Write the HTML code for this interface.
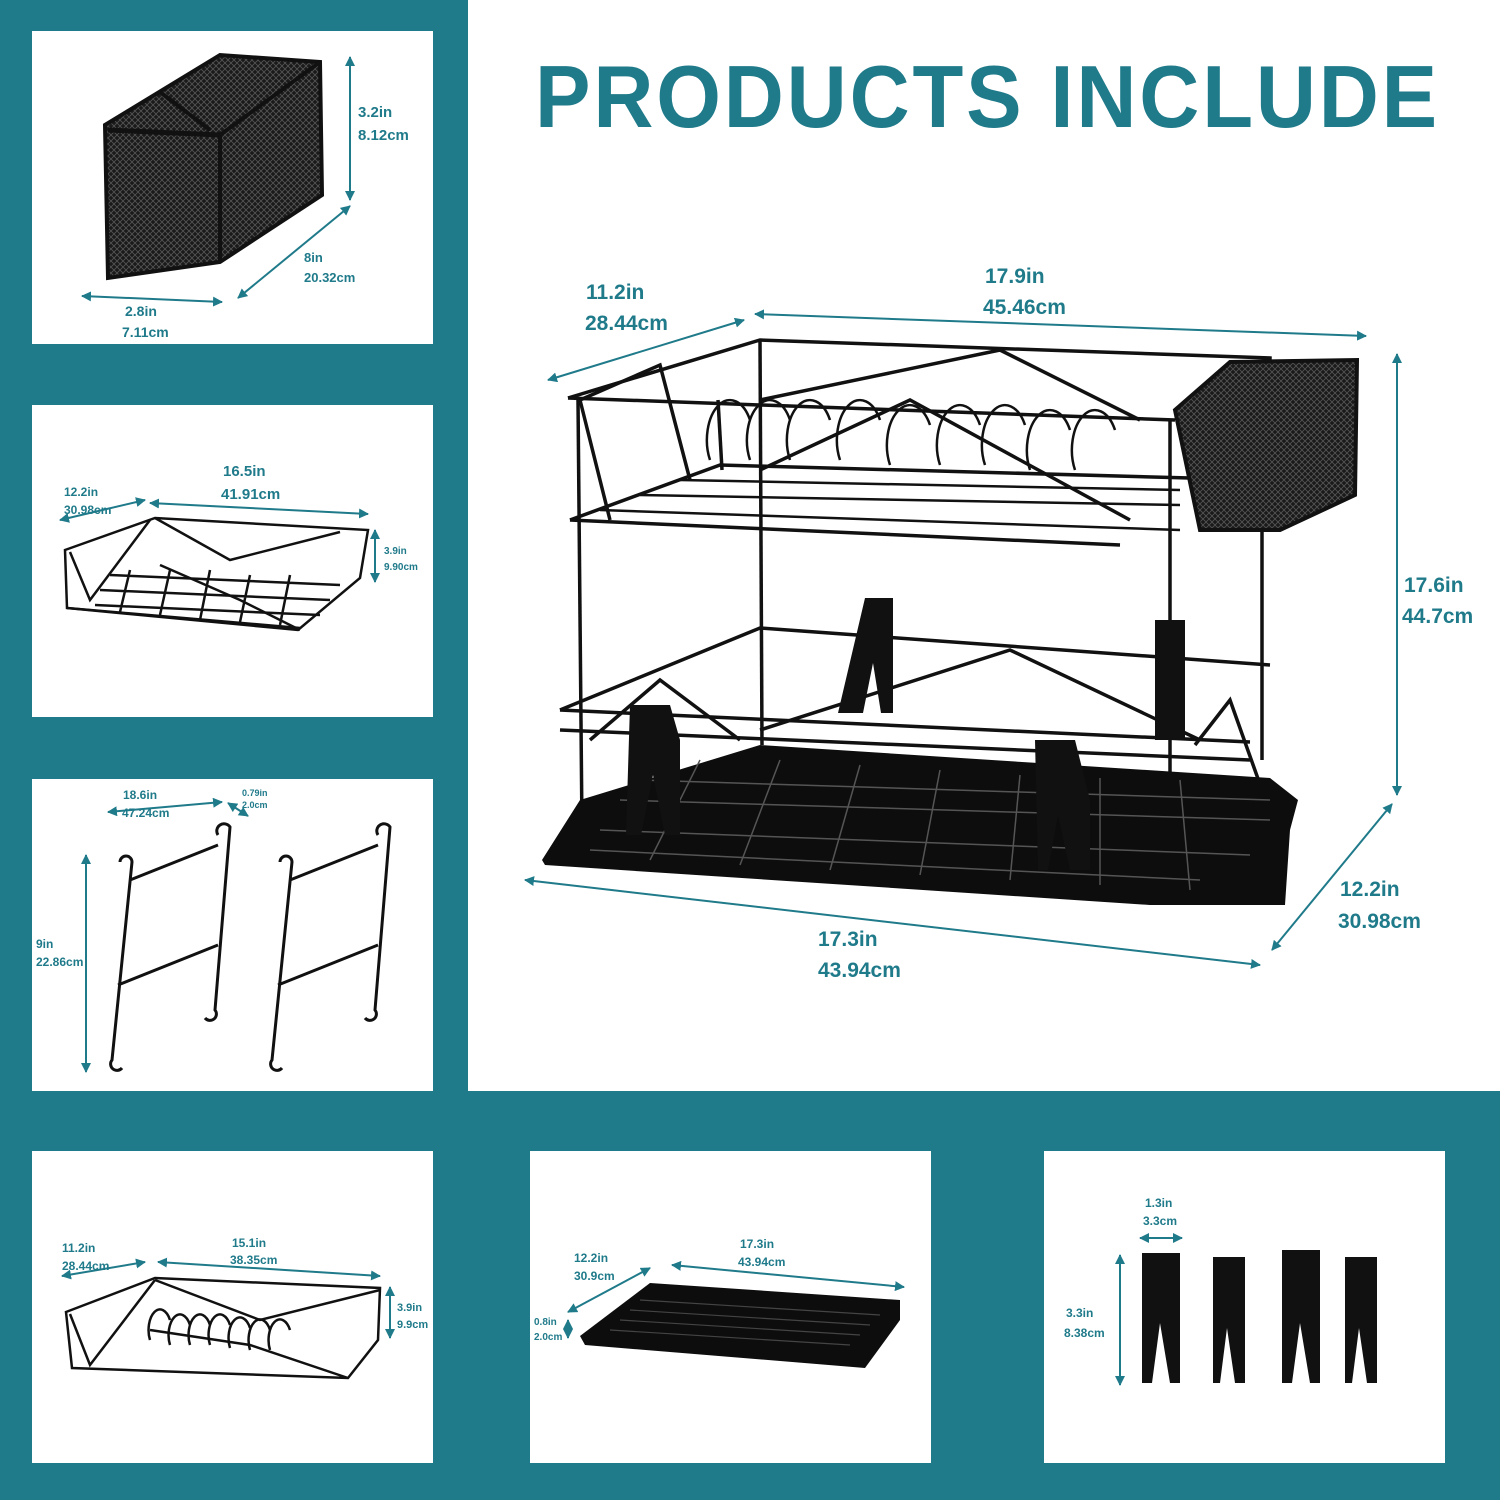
<!DOCTYPE html>
<html><head><meta charset="utf-8"><style>
html,body{margin:0;padding:0;background:#1f7a8a;}
svg{display:block}
text{font-family:"Liberation Sans",sans-serif;font-weight:bold;fill:#1f7a8a}
</style></head><body>
<svg width="1500" height="1500" viewBox="0 0 1500 1500" xmlns="http://www.w3.org/2000/svg">
<defs>
<marker id="a" viewBox="0 0 10 10" refX="9" refY="5" markerWidth="5" markerHeight="5" orient="auto-start-reverse"><path d="M0,0L10,5L0,10z" fill="#1f7a8a"/></marker>
<pattern id="mesh" width="6" height="6" patternUnits="userSpaceOnUse"><rect width="6" height="6" fill="#1a1a1a"/><path d="M0,0L6,6M6,0L0,6" stroke="#555" stroke-width="0.8"/></pattern>
</defs>
<rect width="1500" height="1500" fill="#1f7a8a"/>
<!-- panels -->
<rect x="32" y="31" width="401" height="313" fill="#fff"/>
<rect x="32" y="405" width="401" height="312" fill="#fff"/>
<rect x="32" y="779" width="401" height="312" fill="#fff"/>
<rect x="468" y="0" width="1032" height="1091" fill="#fff"/>
<rect x="32" y="1151" width="401" height="312" fill="#fff"/>
<rect x="530" y="1151" width="401" height="312" fill="#fff"/>
<rect x="1044" y="1151" width="401" height="312" fill="#fff"/>

<text x="535" y="127" font-size="88" letter-spacing="3" textLength="905" lengthAdjust="spacingAndGlyphs">PRODUCTS INCLUDE</text>

<g stroke="#1f7a8a" stroke-width="2" fill="none" marker-start="url(#a)" marker-end="url(#a)">
<!-- P1 -->
<line x1="350" y1="57" x2="350" y2="200"/>
<line x1="238" y1="298" x2="350" y2="206"/>
<line x1="82" y1="296" x2="222" y2="302"/>
<!-- main -->
<line x1="548" y1="380" x2="744" y2="320"/>
<line x1="755" y1="314" x2="1366" y2="336"/>
<line x1="1397" y1="354" x2="1397" y2="795"/>
<line x1="1272" y1="950" x2="1392" y2="804"/>
<line x1="525" y1="880" x2="1260" y2="965"/>
<!-- P2 -->
<line x1="60" y1="520" x2="145" y2="500"/>
<line x1="150" y1="503" x2="368" y2="514"/>
<line x1="375" y1="530" x2="375" y2="582"/>
<!-- P3 -->
<line x1="108" y1="812" x2="222" y2="802"/>
<line x1="228" y1="803" x2="248" y2="816"/>
<line x1="86" y1="855" x2="86" y2="1072"/>
<!-- P4 -->
<line x1="62" y1="1276" x2="145" y2="1262"/>
<line x1="158" y1="1262" x2="380" y2="1276"/>
<line x1="390" y1="1287" x2="390" y2="1338"/>
<!-- P5 -->
<line x1="568" y1="1312" x2="650" y2="1268"/>
<line x1="672" y1="1265" x2="904" y2="1287"/>
<line x1="568" y1="1320" x2="568" y2="1338"/>
<!-- P6 -->
<line x1="1140" y1="1238" x2="1182" y2="1238"/>
<line x1="1120" y1="1255" x2="1120" y2="1385"/>
</g>

<!-- labels -->
<g font-size="15">
<text x="358" y="117">3.2in</text><text x="358" y="140">8.12cm</text>
<text x="304" y="262" font-size="13">8in</text><text x="304" y="282" font-size="13">20.32cm</text>
<text x="125" y="316" font-size="14">2.8in</text><text x="122" y="337" font-size="14">7.11cm</text>
</g>
<g font-size="21">
<text x="586" y="299">11.2in</text><text x="585" y="330">28.44cm</text>
<text x="985" y="283">17.9in</text><text x="983" y="314">45.46cm</text>
<text x="1404" y="592">17.6in</text><text x="1402" y="623">44.7cm</text>
<text x="1340" y="896">12.2in</text><text x="1338" y="928">30.98cm</text>
<text x="818" y="946">17.3in</text><text x="818" y="977">43.94cm</text>
</g>
<g font-size="15"><text x="223" y="476">16.5in</text><text x="221" y="499">41.91cm</text></g>
<g font-size="12"><text x="64" y="496">12.2in</text><text x="64" y="514">30.98cm</text>
<text x="384" y="554" font-size="10">3.9in</text><text x="384" y="570" font-size="10">9.90cm</text>
<text x="123" y="799">18.6in</text><text x="122" y="817">47.24cm</text>
<text x="242" y="796" font-size="9">0.79in</text><text x="242" y="808" font-size="9">2.0cm</text>
<text x="36" y="948">9in</text><text x="36" y="966">22.86cm</text>
<text x="62" y="1252">11.2in</text><text x="62" y="1270">28.44cm</text>
<text x="232" y="1247">15.1in</text><text x="230" y="1264">38.35cm</text>
<text x="397" y="1311" font-size="11">3.9in</text><text x="397" y="1328" font-size="11">9.9cm</text>
<text x="574" y="1262">12.2in</text><text x="574" y="1280">30.9cm</text>
<text x="740" y="1248">17.3in</text><text x="738" y="1266">43.94cm</text>
<text x="534" y="1325" font-size="10">0.8in</text><text x="534" y="1340" font-size="10">2.0cm</text>
<text x="1145" y="1207">1.3in</text><text x="1143" y="1225">3.3cm</text>
<text x="1066" y="1317">3.3in</text><text x="1064" y="1337">8.38cm</text>
</g>

<!-- P1 basket -->
<polygon points="105,125 220,55 320,62 322,195 220,262 108,278" fill="url(#mesh)" stroke="#111" stroke-width="4"/>
<line x1="108" y1="130" x2="220" y2="135" stroke="#111" stroke-width="5"/>
<line x1="220" y1="135" x2="320" y2="62" stroke="#111" stroke-width="4"/>
<line x1="220" y1="135" x2="220" y2="262" stroke="#111" stroke-width="4"/>
<line x1="160" y1="92" x2="210" y2="130" stroke="#111" stroke-width="4"/>

<!-- main rack -->
<g stroke="#111" stroke-width="3.5" fill="none">
<polyline points="568,398 760,340 1270,358 1268,405"/>
<line x1="568" y1="398" x2="1175" y2="420"/>
<polyline points="570,520 720,465 1190,478"/>
<line x1="570" y1="520" x2="1120" y2="545"/>
<line x1="578" y1="400" x2="582" y2="830"/>
<line x1="718" y1="400" x2="722" y2="470"/>
<line x1="760" y1="340" x2="762" y2="745"/>
<line x1="1170" y1="420" x2="1170" y2="850"/>
<line x1="1262" y1="360" x2="1262" y2="760"/>
<polyline points="580,400 610,520"/>
<polyline points="580,400 660,365 690,480"/>
<polyline points="760,400 1000,350 1140,420"/>
<polyline points="760,470 910,400 1130,520"/>
<polyline points="560,710 760,628 1270,665"/>
<line x1="560" y1="710" x2="1250" y2="742"/>
<polyline points="560,730 1250,760"/>
<polyline points="760,730 1010,650 1200,740"/>
<polyline points="590,740 660,680 740,740"/>
<polyline points="1195,745 1230,700 1262,790"/>
</g>
<g stroke="#111" stroke-width="2.5" fill="none">
<path d="M710,460 a22,38 0 0 1 40,-40 M750,460 a22,38 0 0 1 40,-40 M790,460 a22,38 0 0 1 40,-40 M840,460 a22,38 0 0 1 40,-40 M890,465 a22,38 0 0 1 40,-40 M940,465 a22,38 0 0 1 40,-40 M985,465 a22,38 0 0 1 40,-40 M1030,470 a22,38 0 0 1 40,-40 M1075,470 a22,38 0 0 1 40,-40"/>
<path d="M600,510 L1180,530 M640,495 L1180,505 M680,480 L1180,490"/>
</g>
<polygon points="1175,410 1230,362 1357,360 1355,495 1280,530 1200,530" fill="url(#mesh)" stroke="#111" stroke-width="4"/>
<polygon points="542,860 580,800 760,745 1270,778 1298,800 1290,830 1285,905 1150,905 545,865" fill="#0d0d0d"/>
<g stroke="#555" stroke-width="1.5">
<path d="M620,800 L1270,820 M640,780 L1270,800 M600,830 L1250,855 M590,850 L1200,880"/>
<path d="M700,760 L650,860 M780,760 L740,865 M860,765 L830,870 M940,770 L920,875 M1020,775 L1010,880 M1100,778 L1100,885 M1180,780 L1190,890"/>
</g>
<g fill="#111">
<path d="M630,705 h40 l10,35 v95 h-15 l-12,-60 l-12,60 h-15 z"/>
<path d="M865,598 h28 v115 h-12 l-8,-50 l-10,50 h-25 z"/>
<path d="M1035,740 h40 l15,60 v70 h-20 l-12,-55 l-10,55 h-10 z"/>
<path d="M1155,620 h30 v120 h-30 z"/>
</g>

<!-- P2 rack -->
<g stroke="#111" stroke-width="2.5" fill="none">
<polygon points="65,550 155,518 368,530 360,578 298,630 67,608"/>
<line x1="67" y1="608" x2="300" y2="628"/>
<polyline points="70,552 90,600 150,520"/>
<polyline points="155,518 230,560 340,532"/>
<polyline points="160,565 240,600 300,630"/>
<path d="M100,590 L330,600 M95,605 L320,615 M110,575 L340,585 M130,570 L120,612 M170,570 L160,615 M210,570 L200,620 M250,575 L240,622 M290,575 L280,625"/>
</g>

<!-- P3 hooks -->
<g stroke="#111" stroke-width="3" fill="none">
<path d="M120,862 a6,6 0 0 1 12,0 L112,1060 a6,6 0 0 0 10,8 M130,880 L218,845 M118,985 L218,945 M218,835 a6,6 0 0 1 12,-8 L215,1010 a6,6 0 0 1 -10,8"/>
<path d="M280,862 a6,6 0 0 1 12,0 L272,1060 a6,6 0 0 0 10,8 M290,880 L378,845 M278,985 L378,945 M378,835 a6,6 0 0 1 12,-8 L375,1010 a6,6 0 0 1 -10,8"/>
</g>

<!-- P4 rack -->
<g stroke="#111" stroke-width="2.5" fill="none">
<polygon points="66,1312 155,1278 380,1288 378,1340 348,1378 72,1368"/>
<polyline points="70,1314 90,1365 155,1280"/>
<polyline points="155,1280 260,1320 380,1290"/>
<polyline points="150,1330 250,1345 348,1378"/>
<path d="M150,1340 a10,18 0 0 1 20,-20 M170,1345 a10,18 0 0 1 20,-20 M190,1345 a10,18 0 0 1 20,-20 M210,1345 a10,18 0 0 1 20,-20 M230,1348 a10,18 0 0 1 20,-20 M250,1350 a10,18 0 0 1 20,-20 M270,1350 a10,18 0 0 1 20,-20"/>
</g>

<!-- P5 tray -->
<polygon points="580,1336 650,1283 900,1300 900,1320 865,1368 585,1345" fill="#0d0d0d"/>
<g stroke="#444" stroke-width="1.2"><path d="M640,1300 L880,1315 M630,1310 L870,1325 M620,1320 L860,1335 M610,1330 L850,1345"/></g>

<!-- P6 pegs -->
<g fill="#111">
<path d="M1142,1253 h38 v130 h-10 l-10,-60 l-8,60 h-10 z"/>
<path d="M1213,1257 h32 v126 h-10 l-8,-55 l-7,55 h-7 z"/>
<path d="M1282,1250 h38 v133 h-10 l-10,-60 l-8,60 h-10 z"/>
<path d="M1345,1257 h32 v126 h-10 l-8,-55 l-7,55 h-7 z"/>
</g>
</svg>
</body></html>
